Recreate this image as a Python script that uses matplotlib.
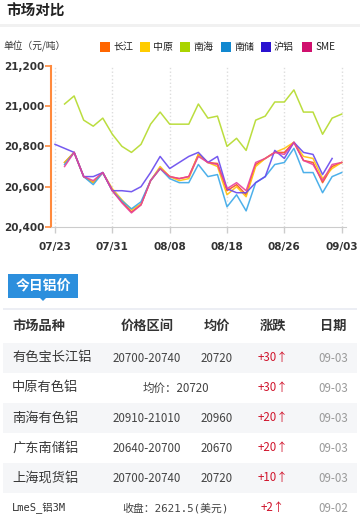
import numpy as np
import matplotlib
matplotlib.use("Agg")
import matplotlib.pyplot as plt
from matplotlib.patches import Rectangle, Polygon

plt.rcParams['font.family'] = ['Noto Sans CJK SC', 'DejaVu Sans']

# --- chart data (trading days, 07/23 .. 09/03) ---
tick_pos = [0, 6, 12, 18, 24, 30]
tick_labels = ['07/23', '07/31', '08/08', '08/18', '08/26', '09/03']

series_names = ['长江', '中原', '南海', '南储', '沪铝', 'SME']
series_colors = ['#FF6600', '#FFCC00', '#AAD400', '#1188D0', '#2A12D0', '#D0106E']
line_colors = ['#F4501E', '#FFC20A', '#B4DA2A', '#3AA8E8', '#6648EE', '#E8409A']

nan = np.nan
changjiang = [nan, 20720, 20770, 20650, 20620, 20670, 20580, 20525, 20475, 20510, 20630,
              20690, 20650, 20640, 20650, 20760, 20720, 20715, 20580, 20610, 20560,
              20710, 20740, 20770, 20770, 20820, 20730, 20720, 20620, 20700, 20720]
zhongyuan = [nan, 20720, 20770, 20650, 20620, 20670, 20590, 20535, 20485, 20515, 20630,
             20700, 20650, 20630, 20640, 20760, 20720, 20700, 20560, 20600, 20550,
             20700, 20740, 20770, 20790, 20820, 20750, 20740, 20640, 20690, 20720]
nanhai = [nan, 21010, 21050, 20930, 20900, 20940, 20860, 20800, 20770, 20810, 20910,
          20970, 20910, 20910, 20910, 21010, 20940, 20950, 20800, 20840, 20780,
          20930, 20950, 21020, 21020, 21080, 20970, 20970, 20860, 20940, 20960]
nanchu = [nan, 20710, 20770, 20650, 20610, 20670, 20580, 20530, 20490, 20525, 20630,
          20690, 20640, 20620, 20620, 20710, 20650, 20660, 20500, 20560, 20480,
          20620, 20650, 20710, 20720, 20790, 20670, 20670, 20570, 20650, 20670]
hulv = [20810, 20790, 20770, 20650, 20650, 20670, 20580, 20580, 20575, 20600, 20670,
        20750, 20690, 20720, 20750, 20770, 20720, 20750, 20590, 20570, 20570,
        20620, 20650, 20780, 20740, 20820, 20770, 20760, 20660, 20740, nan]
sme = [nan, 20700, 20770, 20650, 20630, 20670, 20580, 20520, 20470, 20510, 20630,
       20690, 20650, 20640, 20650, 20750, 20720, 20710, 20590, 20620, 20580,
       20720, 20740, 20770, 20760, 20820, 20730, 20710, 20630, 20710, 20720]
all_series = [changjiang, zhongyuan, nanhai, nanchu, hulv, sme]

# --- table data ---
header = ['市场品种', '价格区间', '均价', '涨跌', '日期']
markets = ['有色宝长江铝', '中原有色铝', '南海有色铝', '广东南储铝', '上海现货铝', 'LmeS_铝3M']
ranges = ['20700-20740', '均价：20720', '20910-21010', '20640-20700', '20700-20740', '收盘：2621.5(美元)']
averages = ['20720', '', '20960', '20670', '20720', '']
changes = ['+30', '+30', '+20', '+20', '+10', '+2']
dates = ['09-03', '09-03', '09-03', '09-03', '09-03', '09-02']

W, H = 360, 523
fig = plt.figure(figsize=(W / 100, H / 100), dpi=100, facecolor='white')

# overlay in pixel coordinates for the page decoration
bg = fig.add_axes([0, 0, 1, 1])
bg.set_xlim(0, W)
bg.set_ylim(H, 0)
bg.axis('off')

bg.text(6, 11, '市场对比', fontsize=10.5, fontweight='bold', color='#222222', va='center', ha='left')
bg.add_patch(Rectangle((0, 24), W, 3, color='#f1f1f1', lw=0))
bg.text(3, 46, '单位（元/吨）', fontsize=7, color='#333333', va='center', ha='left')

leg_x = [100, 140, 180, 221, 261, 302]
for lx, name, c in zip(leg_x, series_names, series_colors):
    bg.add_patch(Rectangle((lx, 42), 9.5, 9.5, color=c, lw=0))
    bg.text(lx + 13, 47, name, fontsize=7.2, color='#222222', va='center', ha='left')

# tab
bg.add_patch(Rectangle((8, 274), 70, 23.5, color='#2C8FDD', lw=0))
bg.add_patch(Polygon([[39, 297], [47, 297], [43, 301]], closed=True, color='#2C8FDD', lw=0))
bg.text(43, 285.5, '今日铝价', fontsize=10, fontweight='bold', color='white', va='center', ha='center')
bg.add_patch(Rectangle((3, 307.5), 354, 2, color='#eceef4', lw=0))

# table
col_x = [12, 147, 217, 273, 333]
bg.text(col_x[0], 326, header[0], fontsize=9.5, color='#333333', va='center', ha='left', fontweight='bold')
for cx, h in zip(col_x[1:], header[1:]):
    bg.text(cx, 326, h, fontsize=9.5, color='#333333', va='center', ha='center', fontweight='bold')

row_y0, row_h = 343, 30
for i in range(len(markets)):
    top = row_y0 + i * row_h
    cy = top + row_h / 2
    if i % 2 == 0:
        bg.add_patch(Rectangle((3, top), 354, row_h, color='#f5f6f8', lw=0))
    mono = markets[i].startswith('Lme')
    if mono:
        bg.text(col_x[0], cy, markets[i], fontsize=7.5, color='#333333', va='center', ha='left',
                family=['DejaVu Sans Mono', 'Noto Sans CJK SC'])
    else:
        bg.text(col_x[0], cy, markets[i], fontsize=9.5, color='#383838', va='center', ha='left')
    if averages[i]:
        bg.text(col_x[1], cy, ranges[i], fontsize=8.3, color='#444444', va='center', ha='center')
        bg.text(col_x[2], cy, averages[i], fontsize=8.3, color='#444444', va='center', ha='center')
    elif mono:
        bg.text(175, cy, ranges[i], fontsize=7.8, color='#444444', va='center', ha='center',
                family=['DejaVu Sans Mono', 'Noto Sans CJK SC'])
    else:
        bg.text(176, cy, ranges[i], fontsize=8.3, color='#444444', va='center', ha='center')
    bg.text(col_x[3], cy, changes[i] + '↑', fontsize=8.3, color='#D0142C', va='center', ha='center')
    bg.text(col_x[4], cy, dates[i], fontsize=8.3, color='#9a9a9a', va='center', ha='center')

# --- line chart ---
x0, x1 = 51, 345.7
y0, y1 = 65.7, 227
ax = fig.add_axes([x0 / W, 1 - y1 / H, (x1 - x0) / W, (y1 - y0) / H])
ax.set_facecolor('none')
x = np.arange(len(hulv))
for vals, c in zip(all_series, line_colors):
    ax.plot(x, vals, color=c, lw=1.1, alpha=0.9)

ax.set_xlim(-0.42, 30.42)
ax.set_ylim(20400, 21200)
ax.set_yticks([20400, 20600, 20800, 21000, 21200])
ax.set_yticklabels(['{:,}'.format(v) for v in [20400, 20600, 20800, 21000, 21200]])
ax.set_xticks(tick_pos)
ax.set_xticklabels(tick_labels)
ax.xaxis.grid(True, color='#dddddd', ls=':', lw=1)
for s in ['top', 'right']:
    ax.spines[s].set_visible(False)
ax.spines['left'].set_color('#FF8A3D')
ax.spines['left'].set_linewidth(1.5)
ax.spines['bottom'].set_color('#cccccc')
ax.tick_params(axis='y', colors='#FF8A3D', length=4, width=1.2, pad=1)
ax.tick_params(axis='x', colors='#cccccc', length=4, width=1, pad=7)
for lab in ax.get_yticklabels() + ax.get_xticklabels():
    lab.set_color('#333333')
    lab.set_fontsize(7.5)
    lab.set_fontweight('bold')
    lab.set_family('DejaVu Sans')

fig.savefig('out.png', dpi=100, facecolor='white')
